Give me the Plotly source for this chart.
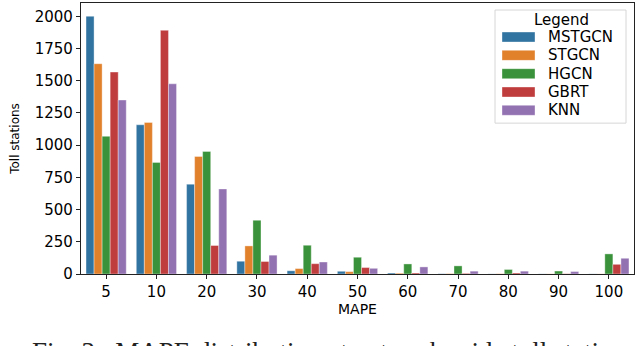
import plotly.graph_objects as go

# MAPE bins (categories on the x axis)
mape_bins = ["5", "10", "20", "30", "40", "50", "60", "70", "80", "90", "100"]

# number of toll stations per MAPE bin, one list per model
mstgcn = [2000, 1158, 697, 99, 25, 21, 8, 2, 1, 1, 1]
stgcn = [1632, 1176, 912, 218, 42, 18, 6, 3, 2, 1, 1]
hgcn = [1068, 866, 951, 417, 223, 130, 78, 63, 35, 23, 156]
gbrt = [1567, 1891, 221, 97, 80, 50, 8, 5, 8, 2, 75]
knn = [1350, 1476, 660, 146, 93, 44, 55, 22, 22, 19, 122]

model_names = ["MSTGCN", "STGCN", "HGCN", "GBRT", "KNN"]
series = [mstgcn, stgcn, hgcn, gbrt, knn]
colors = ["#3274a1", "#e1812c", "#3a923a", "#c03d3e", "#9372b2"]

W, H = 640, 346
L, R, T, B = 81, 634, 3, 273.7


def px_x(X):
    return (X - L) / (R - L)


def px_y(Y):
    return (B - Y) / (B - T)


fig = go.Figure()
for name, vals, c in zip(model_names, series, colors):
    fig.add_trace(go.Bar(
        x=mape_bins, y=vals, name=name,
        marker=dict(color=c, line=dict(color="rgba(255,255,255,0.6)", width=0.6)),
        showlegend=False,
    ))

font = "DejaVu Sans"

# legend drawn by hand so the patches look like matplotlib ones
shapes = [dict(type="rect", xref="paper", yref="paper",
               x0=px_x(495), x1=px_x(626), y0=px_y(123), y1=px_y(10),
               line=dict(color="#d6d6d6", width=1), fillcolor="white")]
annotations = [dict(text="Legend", xref="paper", yref="paper",
                    x=px_x(561), y=px_y(20), xanchor="center", yanchor="middle",
                    showarrow=False, font=dict(family=font, size=15, color="black"))]
for i, (name, c) in enumerate(zip(model_names, colors)):
    yc = 37 + i * 18.3
    shapes.append(dict(type="rect", xref="paper", yref="paper",
                       x0=px_x(502), x1=px_x(535), y0=px_y(yc + 5), y1=px_y(yc - 5),
                       fillcolor=c, line=dict(color="rgba(255,255,255,0.6)", width=0.6)))
    annotations.append(dict(text=name, xref="paper", yref="paper",
                            x=px_x(546), y=px_y(yc), xanchor="left", yanchor="middle",
                            showarrow=False, font=dict(family=font, size=15, color="black")))

# figure caption, cut by the bottom edge as in the source
annotations.append(dict(text="Fig. 3.  MAPE distribution at network-wide toll stations",
                        xref="paper", yref="paper", x=px_x(30), y=px_y(335),
                        xanchor="left", yanchor="top", showarrow=False,
                        font=dict(family="Liberation Serif", size=27, color="#222")))

fig.update_layout(
    width=W, height=H,
    margin=dict(l=L, r=W - R, t=T, b=H - B),
    paper_bgcolor="white", plot_bgcolor="white",
    barmode="group", bargap=0.2, bargroupgap=0,
    shapes=shapes, annotations=annotations,
    font=dict(family=font, size=15, color="black"),
)
fig.update_xaxes(
    title=dict(text="MAPE", font=dict(size=14), standoff=3),
    range=[-0.5, 10.5], showline=True, mirror=True, linecolor="#222", linewidth=1.2,
    ticks="outside", ticklen=4, tickcolor="#222", showgrid=False,
)
fig.update_yaxes(
    title=dict(text="Toll stations", font=dict(size=12), standoff=12),
    range=[0, 2103], tickvals=[0, 250, 500, 750, 1000, 1250, 1500, 1750, 2000],
    showline=True, mirror=True, linecolor="#222", linewidth=1.2,
    ticks="outside", ticklen=4, tickcolor="#222", showgrid=False, zeroline=False,
)

# drop the default page margin so the figure sits at the window's corner
fig.write_html("out.html", config={"displayModeBar": False},
               post_script="document.body.style.margin='0';")
